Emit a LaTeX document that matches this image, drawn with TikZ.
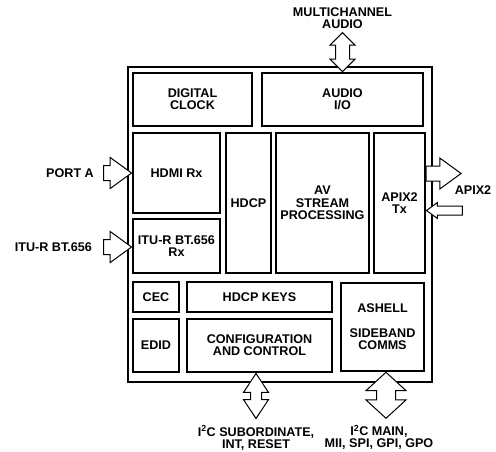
\documentclass[tikz,border=0pt]{standalone}
\usepackage{fontspec}
\setmainfont{Liberation Sans}
\usetikzlibrary{positioning,shapes.arrows}
\newcommand{\blockfont}{\bfseries\fontsize{12.6}{12.3}\selectfont}

\begin{document}
\begin{tikzpicture}
[x=1pt,y=-1pt,
  chipDecorate/.style={draw,line width=2.2pt,inner sep=0pt},
  blockDecorate/.style={draw,line width=1.2pt,inner sep=0pt,align=center,font=\blockfont},
  labelDecorate/.style={inner sep=0pt,align=center,font=\blockfont},
  arrowDecorate/.style={draw,line width=1pt,fill=white,inner xsep=0pt},
  bigArrow/.style={arrowDecorate,single arrow,minimum height=28,inner ysep=7,
    single arrow head extend=8,single arrow tip angle=72},
  smallArrow/.style={arrowDecorate,single arrow,minimum height=36,inner ysep=4,
    single arrow head extend=3.5,single arrow tip angle=72},
  busArrow/.style={arrowDecorate,double arrow,minimum height=39,inner ysep=6.5,
    double arrow head extend=5.5,double arrow tip angle=90}]
\useasboundingbox (0,0) rectangle (496,451);
%% chip outline
\node (chip) at (280,224.5) [chipDecorate,minimum width=304,minimum height=315] {};
%% blocks
\foreach \nodename/\x/\y/\w/\h/\blocktext in {
  clock/192.5/99.5/119/53/{DIGITAL\\CLOCK},
  audio/342.5/99.5/161/53/{AUDIO\\I/O},
  hdmi/176.5/173/87/80/{HDMI Rx},
  itu/176.5/246/87/54/{ITU-R BT.656\\Rx},
  hdcp/248.5/203/45/140/{HDCP},
  avsp/322.5/203/93/140/{AV\\STREAM\\PROCESSING},
  apix/399.5/203/51/140/{APIX2\\Tx},
  cec/156/297/46/30/{CEC},
  keys/259.5/297/145/30/{HDCP KEYS},
  edid/156/345.5/46/53/{EDID},
  config/259.5/345.5/145/53/{CONFIGURATION\\AND CONTROL},
  ashell/382.5/327/83/88/{ASHELL\\[12.3pt]SIDEBAND\\COMMS}}
{
  \node (\nodename) at (\x,\y) [blockDecorate,minimum width=\w,minimum height=\h] {\blocktext};
}
%% ports
\node (portArrow) [bigArrow,anchor=tip] at (hdmi.west) {};
\node [labelDecorate,left=9pt of portArrow.tail] {PORT A};
\node (ituArrow) [bigArrow,anchor=tip] at ([yshift=-1pt]itu.west) {};
\node [labelDecorate,left=11pt of ituArrow.tail] {ITU-R BT.656};
\node (apixOut) [bigArrow,minimum height=35,anchor=tail] at ([yshift=29.5pt]apix.east) {};
\node (apixIn) [smallArrow,rotate=180,anchor=tip] at ([yshift=-7.5pt]apix.east) {};
\node [labelDecorate] at (473,190.5) {APIX2};
%% buses
\node (audioArrow) [busArrow,rotate=90,anchor=west] at (audio.north) {};
\node [labelDecorate,above=3pt of audioArrow.east] {MULTICHANNEL\\AUDIO};
\node (configArrow) [busArrow,minimum height=45,inner ysep=5,double arrow head extend=7,
  double arrow tip angle=67,rotate=90,anchor=east] at ([xshift=-3.5pt]config.south) {};
\node [labelDecorate,below=6pt of configArrow.west] {I\textsuperscript{2}C SUBORDINATE,\\INT, RESET};
\node (ashellArrow) [busArrow,minimum height=46,inner ysep=9,double arrow head extend=10.5,
  double arrow tip angle=95,rotate=90,anchor=east] at ([xshift=3.5pt]ashell.south) {};
\node [labelDecorate,below=6pt of ashellArrow.west,xshift=-7pt] {I\textsuperscript{2}C MAIN,\\MII, SPI, GPI, GPO};
\end{tikzpicture}
\end{document}
